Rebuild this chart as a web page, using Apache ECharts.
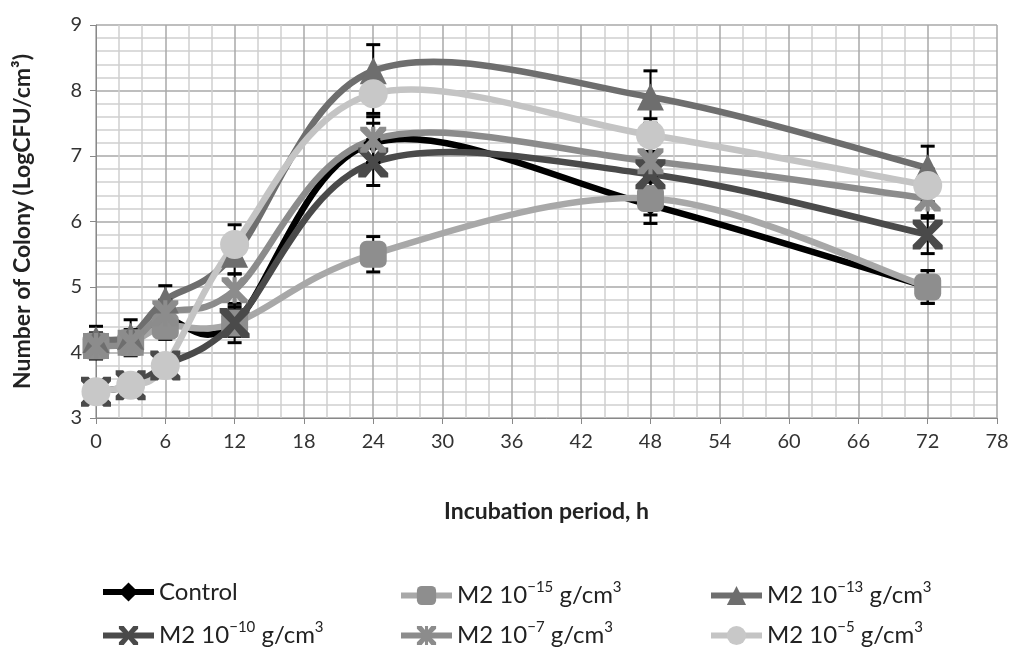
<!DOCTYPE html>
<html>
<head>
<meta charset="utf-8">
<script src="https://cdn.jsdelivr.net/npm/echarts@6/dist/echarts.min.js"></script>
<style>
  html, body { margin: 0; padding: 0; background: #fff; }
  #chart { width: 1012px; height: 648px; }
</style>
</head>
<body>
<div id="chart"></div>
<script>
'use strict';

// incubation times (h)
var hours = [0, 3, 6, 12, 24, 48, 72];

// series names
var names = [
  'Control',
  'M2 10\u2212\u00B9\u2075 g/cm\u00B3',
  'M2 10\u2212\u00B9\u00B3 g/cm\u00B3',
  'M2 10\u2212\u00B9\u2070 g/cm\u00B3',
  'M2 10\u2212\u2077 g/cm\u00B3',
  'M2 10\u2212\u2075 g/cm\u00B3'
];
// exponents shown as superscript in the legend
var exponents = ['', '\u221215', '\u221213', '\u221210', '\u22127', '\u22125'];

// LogCFU/cm3 values
var control = [4.1, 4.15, 4.5, 4.45, 7.2, 6.25, 5.0];
var m2e15 = [4.1, 4.15, 4.4, 4.45, 5.5, 6.35, 5.0];
var m2e13 = [4.2, 4.25, 4.8, 5.5, 8.3, 7.9, 6.82];
var m2e10 = [3.4, 3.5, 3.8, 4.45, 6.9, 6.72, 5.8];
var m2e7 = [4.1, 4.15, 4.6, 4.95, 7.25, 6.92, 6.35];
var m2e5 = [3.4, 3.5, 3.8, 5.65, 7.95, 7.32, 6.55];

// error (+/-) values
var errControl = [0.2, 0.2, 0.2, 0.3, 0.3, 0.28, 0.25];
var errE15 = [0.15, 0.15, 0.2, 0.2, 0.27, 0.25, 0.25];
var errE13 = [0.2, 0.25, 0.22, 0.3, 0.4, 0.4, 0.33];
var errE10 = [0.1, 0.1, 0.1, 0.2, 0.35, 0.3, 0.29];
var errE7 = [0.15, 0.15, 0.2, 0.25, 0.35, 0.25, 0.3];
var errE5 = [0.1, 0.1, 0.1, 0.3, 0.3, 0.25, 0.25];

var values = [control, m2e15, m2e13, m2e10, m2e7, m2e5];
var errors = [errControl, errE15, errE13, errE10, errE7, errE5];

var lineColors = ['#000000', '#a8a8a8', '#6e6e6e', '#4a4a4a', '#8c8c8c', '#c4c4c4'];
var markColors = ['#000000', '#8e8e8e', '#6e6e6e', '#4a4a4a', '#8c8c8c', '#c8c8c8'];

var crossPath = 'path://M0,0 L2.5,0 L5,3 L7.5,0 L10,0 L10,1.5 L6.5,5 L10,8.5 L10,10 L7.5,10 L5,7 L2.5,10 L0,10 L0,8.5 L3.5,5 L0,1.5 Z';
var starPath = 'path://M0,0 L2.5,0 L5,3 L7.5,0 L10,0 L10,1.5 L6.5,5 L10,8.5 L10,10 L7.5,10 L5,7 L2.5,10 L0,10 L0,8.5 L3.5,5 L0,1.5 Z M4.2,0 L5.8,0 L5.8,10 L4.2,10 Z';
var symbols = ['diamond', 'roundRect', 'triangle', crossPath, starPath, 'circle'];
var symbolSizes = [20, 27, 27, 30, 26, 29];

var fontFamily = 'Lato, "Open Sans", sans-serif';

var chart = echarts.init(document.getElementById('chart'));

/**
 * Excel-like smoothed line (catmull-rom through the points)
 * drawn once per series from the axis coordinates
 */
function curveRenderer(idx) {
  return function(params, api) {
    if (params.dataIndex !== 0) {
      return null;
    }
    var pts = hours.map(function(h, j) {
      return api.coord([h, values[idx][j]]);
    });
    var children = [];
    for (var k = 0; k < pts.length - 1; k++) {
      var p0 = pts[Math.max(k - 1, 0)];
      var p1 = pts[k];
      var p2 = pts[k + 1];
      var p3 = pts[Math.min(k + 2, pts.length - 1)];
      children.push({
        type: 'bezierCurve',
        shape: {
          x1: p1[0], y1: p1[1],
          x2: p2[0], y2: p2[1],
          cpx1: p1[0] + (p2[0] - p0[0]) / 6,
          cpy1: p1[1] + (p2[1] - p0[1]) / 6,
          cpx2: p2[0] - (p3[0] - p1[0]) / 6,
          cpy2: p2[1] - (p3[1] - p1[1]) / 6
        },
        style: { stroke: lineColors[idx], lineWidth: 6.5, fill: null, lineCap: 'round' }
      });
    }
    return { type: 'group', children: children };
  };
}

var series = [];
names.forEach(function(name, i) {
  //curve
  series.push({
    type: 'custom',
    silent: true,
    data: hours.map(function(h, j) { return [h, values[i][j]]; }),
    renderItem: curveRenderer(i),
    z: 2 + i
  });
  //markers (line itself hidden, drawn by the curve)
  series.push({
    name: name,
    type: 'line',
    data: hours.map(function(h, j) { return [h, values[i][j]]; }),
    symbol: symbols[i],
    symbolSize: symbolSizes[i],
    lineStyle: { color: lineColors[i], width: 6, opacity: 0 },
    itemStyle: { color: markColors[i] },
    z: 20 + i
  });
});

//error bars: above the curves, below the markers
names.forEach(function(name, i) {
  series.push({
    type: 'custom',
    silent: true,
    data: hours.map(function(h, j) {
      return [h, values[i][j] - errors[i][j], values[i][j] + errors[i][j]];
    }),
    renderItem: function(params, api) {
      var lo = api.coord([api.value(0), api.value(1)]);
      var hi = api.coord([api.value(0), api.value(2)]);
      var cap = 7;
      return {
        type: 'group',
        children: [
          { type: 'line', shape: { x1: lo[0], y1: lo[1], x2: hi[0], y2: hi[1] }, style: { stroke: '#000', lineWidth: 2 } },
          { type: 'line', shape: { x1: lo[0] - cap, y1: lo[1], x2: lo[0] + cap, y2: lo[1] }, style: { stroke: '#000', lineWidth: 3 } },
          { type: 'line', shape: { x1: hi[0] - cap, y1: hi[1], x2: hi[0] + cap, y2: hi[1] }, style: { stroke: '#000', lineWidth: 3 } }
        ]
      };
    },
    z: 15
  });
});

//one legend per item so the columns line up
var legendPos = [
  { left: 100, top: 580 }, { left: 398, top: 580 }, { left: 708, top: 580 },
  { left: 100, top: 620 }, { left: 398, top: 620 }, { left: 708, top: 620 }
];
var legends = names.map(function(name, i) {
  return {
    data: [name],
    left: legendPos[i].left,
    top: legendPos[i].top,
    padding: 0,
    itemWidth: 51,
    itemHeight: 24,
    itemGap: 3,
    lineStyle: { color: lineColors[i], width: 6, opacity: 1 },
    formatter: function() {
      if (!exponents[i]) {
        return name;
      }
      return 'M2 10{sup|' + exponents[i] + '} g/cm{sup|3}';
    },
    textStyle: {
      fontFamily: fontFamily,
      fontSize: 24,
      color: '#222',
      rich: {
        sup: { fontFamily: fontFamily, fontSize: 15, color: '#222', padding: [0, 0, 16, 0] }
      }
    }
  };
});

var option = {
  animation: false,
  backgroundColor: '#ffffff',
  grid: { left: 96, right: 15, top: 25, bottom: 230, containLabel: false },
  legend: legends,
  xAxis: {
    type: 'value',
    min: 0,
    max: 78,
    interval: 6,
    name: 'Incubation period, h',
    nameLocation: 'middle',
    nameGap: 82,
    nameTextStyle: { fontFamily: fontFamily, fontSize: 23, fontWeight: 'bold', color: '#222' },
    axisLine: { show: true, lineStyle: { color: '#888', width: 1 } },
    axisTick: { show: true, length: 6, lineStyle: { color: '#888' } },
    axisLabel: { fontFamily: fontFamily, fontSize: 20, color: '#333', margin: 14 },
    splitLine: { show: true, lineStyle: { color: '#a8a8a8', width: 1.5 } },
    minorTick: { show: false, splitNumber: 3 },
    minorSplitLine: { show: true, lineStyle: { color: '#cfcfcf', width: 1.5 } }
  },
  yAxis: {
    type: 'value',
    min: 3,
    max: 9,
    interval: 1,
    name: 'Number of Colony (LogCFU/cm\u00B3)',
    nameLocation: 'middle',
    nameGap: 62,
    nameTextStyle: { fontFamily: fontFamily, fontSize: 23, fontWeight: 'bold', color: '#222' },
    axisLine: { show: true, lineStyle: { color: '#888', width: 1 } },
    axisTick: { show: true, length: 6, lineStyle: { color: '#888' } },
    axisLabel: { fontFamily: fontFamily, fontSize: 20, color: '#333', margin: 14 },
    splitLine: { show: true, lineStyle: { color: '#a8a8a8', width: 1.5 } },
    minorTick: { show: false, splitNumber: 5 },
    minorSplitLine: { show: true, lineStyle: { color: '#cfcfcf', width: 1.5 } }
  },
  series: series
};

chart.setOption(option);
</script>
</body>
</html>
